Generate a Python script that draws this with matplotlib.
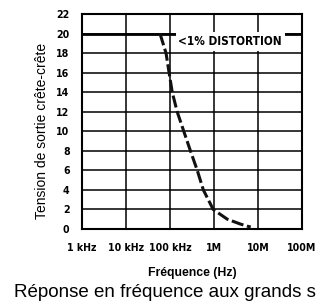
import matplotlib
matplotlib.use("Agg")
import matplotlib.pyplot as plt
from matplotlib.ticker import FixedLocator, NullLocator

# data
plateau_freq = [1e3, 1e8]
plateau_level = [20, 20]
curve_freq = [59e3, 81e3, 95e3, 112e3, 145e3, 205e3, 290e3, 415e3, 570e3, 955e3, 2.0e6, 4.0e6, 5.6e6, 6.8e6]
curve_level = [20, 18, 16, 14, 12, 10, 8, 6, 4, 2, 1, 0.5, 0.3, 0.2]
x_ticks = [1e3, 1e4, 1e5, 1e6, 1e7, 1e8]
x_labels = ["1 kHz", "10 kHz", "100 kHz", "1M", "10M", "100M"]
y_ticks = list(range(0, 23, 2))

fig = plt.figure(figsize=(3.18, 3.08), dpi=100)
ax = fig.add_axes([0.258, 0.2565, 0.692, 0.698])

narrow = ["DejaVu Sans"]
tickfont = dict(family=narrow, weight="bold", size=7.6, stretch="condensed")

ax.set_xscale("log")
ax.set_xlim(1e3, 1e8)
ax.set_ylim(0, 22)
ax.xaxis.set_major_locator(FixedLocator(x_ticks))
ax.xaxis.set_minor_locator(NullLocator())
ax.yaxis.set_major_locator(FixedLocator(y_ticks))
ax.set_xticklabels(x_labels, **tickfont)
ax.set_yticklabels([str(v) for v in y_ticks], **tickfont)
ax.tick_params(axis="x", length=0, pad=10)
ax.tick_params(axis="y", length=0, pad=9)
ax.grid(True, color="black", linewidth=1.1)
for s in ax.spines.values():
    s.set_linewidth(1.5)

ax.plot(plateau_freq, plateau_level, color="black", linewidth=2.0, solid_capstyle="butt", zorder=3)
ax.plot(curve_freq, curve_level, color="#111111", linewidth=2.2, dashes=(4, 1.2), zorder=4)

ax.text(1.55e5, 19.85, "<1% DISTORTION", ha="left", va="top",
        family=narrow, weight="bold", size=8.5, stretch="condensed",
        bbox=dict(facecolor="white", edgecolor="none", pad=2.0), zorder=5)

fig.text(0.132, 0.575, "Tension de sortie crête-crête", family=["Liberation Sans", "DejaVu Sans"],
         size=10, rotation=90, ha="center", va="center")
ax.set_xlabel("Fréquence (Hz)", family=["Liberation Sans", "DejaVu Sans"], weight="bold",
              size=8.8, labelpad=10)

fig.text(0.045, 0.036, "Réponse en fréquence aux grands s", family=["Liberation Sans", "DejaVu Sans"],
         size=13.5, ha="left", va="baseline")

fig.savefig("out.png", dpi=100)
